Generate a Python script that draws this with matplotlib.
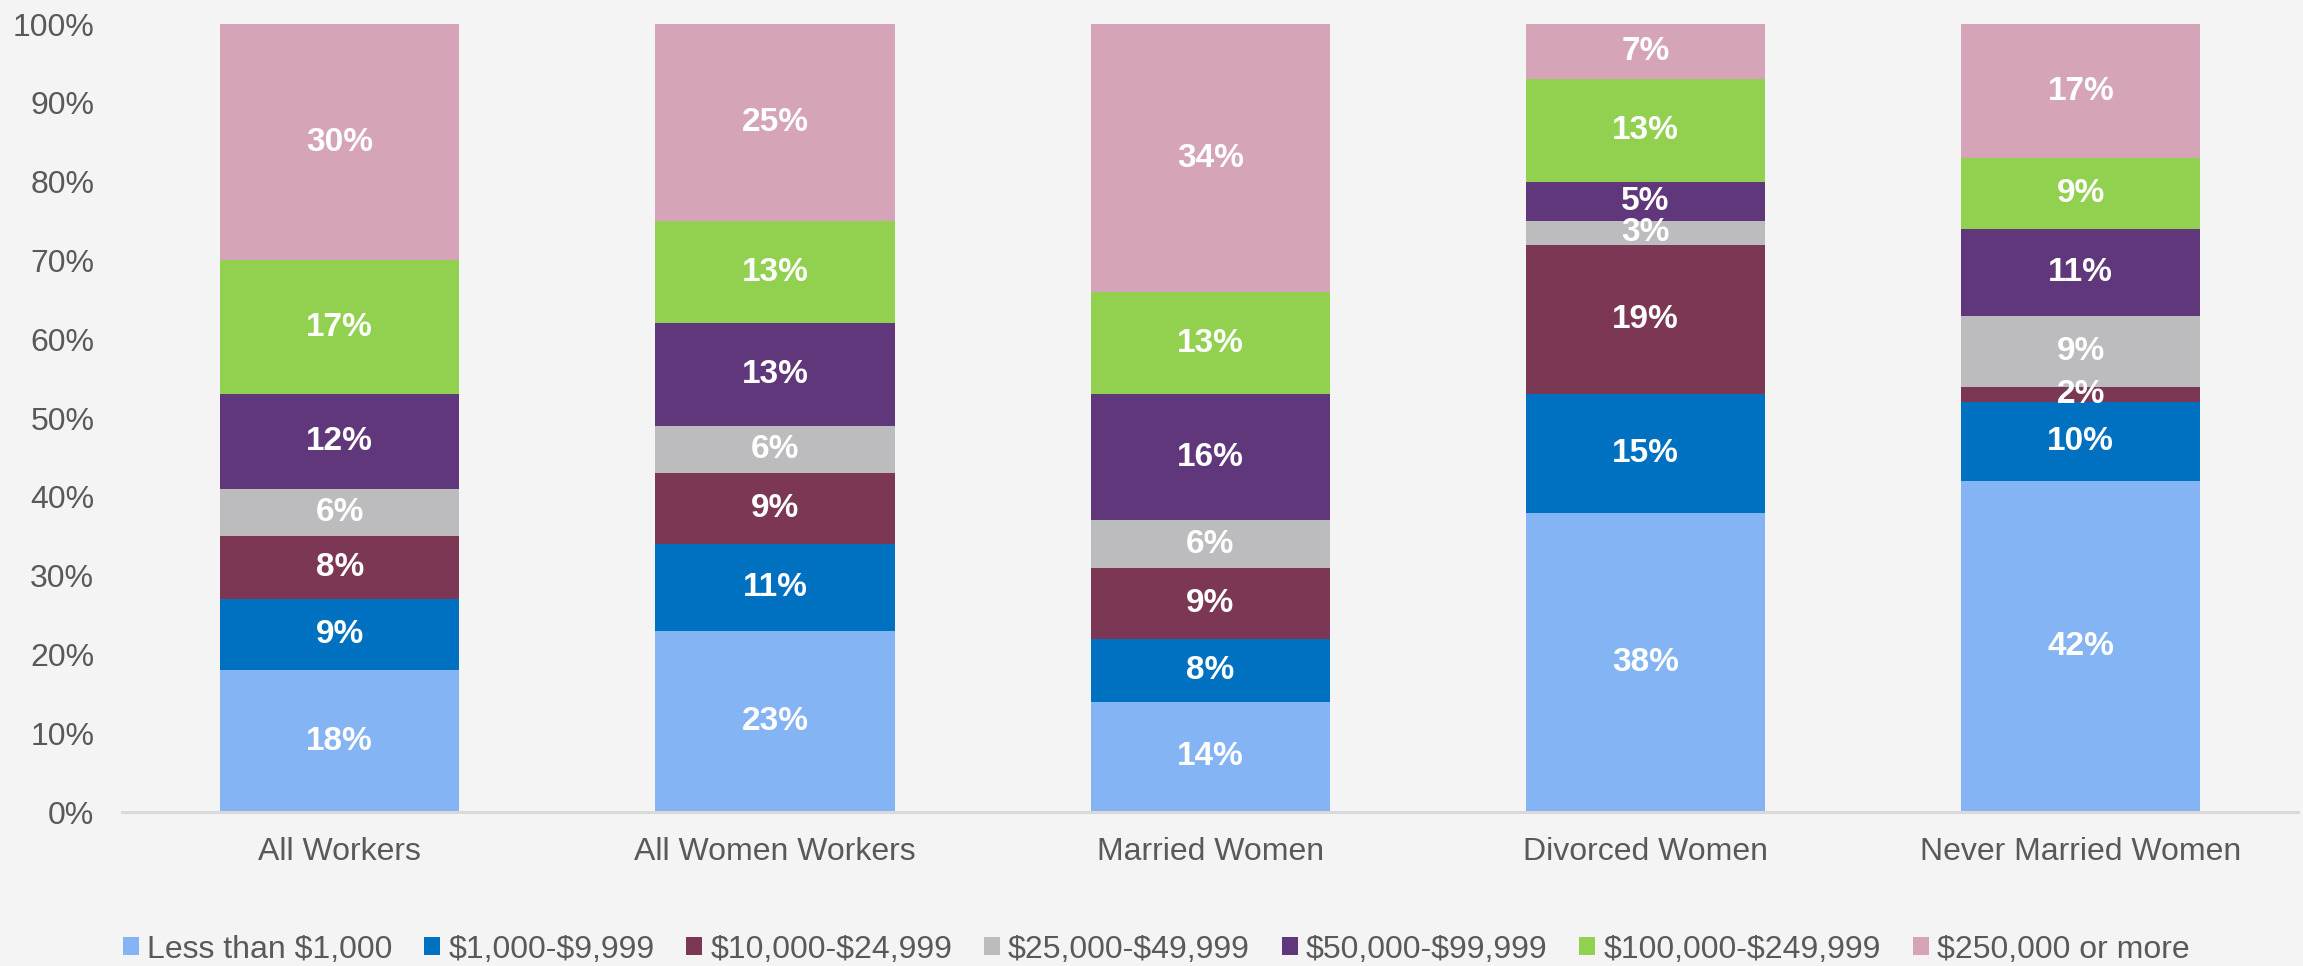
import matplotlib
matplotlib.use('Agg')
import matplotlib.pyplot as plt
from matplotlib.patches import Patch
import numpy as np

plt.rcParams['font.family'] = ['Liberation Sans', 'DejaVu Sans']
plt.rcParams['text.parse_math'] = False

# categories and share of each asset bracket (%)
groups = ['All Workers', 'All Women Workers', 'Married Women', 'Divorced Women', 'Never Married Women']
brackets = ['Less than $1,000', '$1,000-$9,999', '$10,000-$24,999', '$25,000-$49,999',
            '$50,000-$99,999', '$100,000-$249,999', '$250,000 or more']
less_1k = [18, 23, 14, 38, 42]
k1_10 = [9, 11, 8, 15, 10]
k10_25 = [8, 9, 9, 19, 2]
k25_50 = [6, 6, 6, 3, 9]
k50_100 = [12, 13, 16, 5, 11]
k100_250 = [17, 13, 13, 13, 9]
k250_up = [30, 25, 34, 7, 17]
series = [less_1k, k1_10, k10_25, k25_50, k50_100, k100_250, k250_up]

colors = ['#85B4F4', '#0070C0', '#7B3753', '#BCBBBD', '#61377B', '#92D050', '#D5A4B8']
bg = '#F4F4F4'
txt = '#595959'

fig = plt.figure(figsize=(23.03, 9.66), dpi=100, facecolor=bg)
ax = fig.add_axes([0.053, 0.1594, 0.945, 0.8157])
ax.set_facecolor(bg)

x = np.arange(len(groups))
bottom = np.zeros(len(groups))
for vals, col in zip(series, colors):
    vals = np.array(vals, dtype=float)
    ax.bar(x, vals, 0.55, bottom=bottom, color=col, edgecolor='none')
    for xi, b, v in zip(x, bottom, vals):
        ax.text(xi, b + v / 2, f'{int(v)}%', ha='center', va='center',
                color='white', fontsize=24, fontweight='bold')
    bottom += vals

ax.set_xlim(-0.5, 4.5)
ax.set_ylim(0, 100)
ax.set_yticks(np.arange(0, 101, 10))
ax.set_yticklabels([f'{t}%' for t in range(0, 101, 10)])
ax.set_xticks(x)
ax.set_xticklabels(groups)
ax.tick_params(axis='both', length=0, labelsize=23, labelcolor=txt)
ax.tick_params(axis='y', pad=20)
ax.tick_params(axis='x', pad=18)
for s in ['top', 'right', 'left']:
    ax.spines[s].set_visible(False)
ax.spines['bottom'].set_color('#D9D9D9')
ax.spines['bottom'].set_linewidth(2.2)

handles = [Patch(facecolor=c, edgecolor='none') for c in colors]
fig.legend(handles, brackets, loc='center', bbox_to_anchor=(0.502, 0.017), ncol=7,
           frameon=False, fontsize=23, labelcolor=txt, handlelength=0.5,
           handleheight=0.5, handletextpad=0.25, columnspacing=1.0)

fig.savefig('out.png', dpi=100, facecolor=bg)
